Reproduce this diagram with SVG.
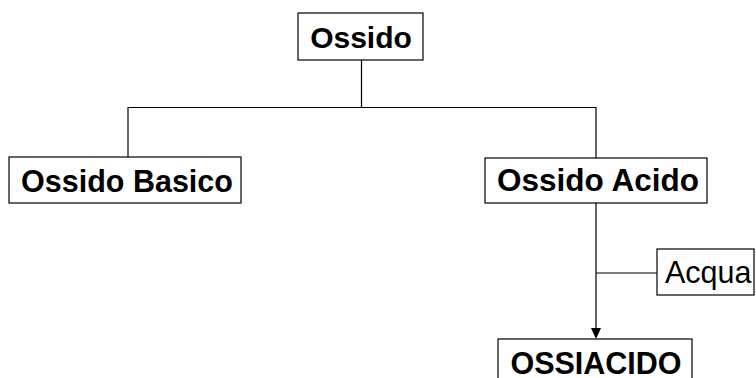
<svg xmlns="http://www.w3.org/2000/svg" width="756" height="378" viewBox="0 0 756 378">
<style>
.box{fill:#fff;stroke:#000;stroke-width:1.2}
.b{font-family:"Liberation Sans",Arial,sans-serif;font-weight:bold;font-size:30px;text-anchor:middle;fill:#000}
.r{font-family:"Liberation Sans",Arial,sans-serif;font-size:30.5px;fill:#000}
.ln{fill:none;stroke:#000;stroke-width:1.2}
</style>
<rect width="756" height="378" fill="#fff"/>
<g id="connectors">
<path class="ln" d="M361.5,60 V107.5 M128,157 V107.5 H596 V158"/>
<path class="ln" d="M596,203 V330 M596,273 H657"/>
<polygon points="591,328 601,328 596,339" fill="#000"/>
</g>
<g id="ossido">
<rect class="box" x="298" y="13" width="125" height="47"/>
<text class="b" x="361" y="47.5">Ossido</text>
</g>
<g id="ossido-basico">
<rect class="box" x="9" y="157" width="232" height="46"/>
<text class="b" x="127" y="192" style="font-size:30.5px">Ossido Basico</text>
</g>
<g id="ossido-acido">
<rect class="box" x="485" y="158" width="222" height="45"/>
<text class="b" x="598" y="191" style="font-size:31.5px">Ossido Acido</text>
</g>
<g id="acqua">
<rect class="box" x="657" y="249" width="97" height="46"/>
<text class="r" x="665" y="283">Acqua</text>
</g>
<g id="ossiacido">
<rect class="box" x="498" y="339" width="194" height="50"/>
<text class="b" x="596" y="373.5" style="font-size:30.5px">OSSIACIDO</text>
</g>
</svg>
